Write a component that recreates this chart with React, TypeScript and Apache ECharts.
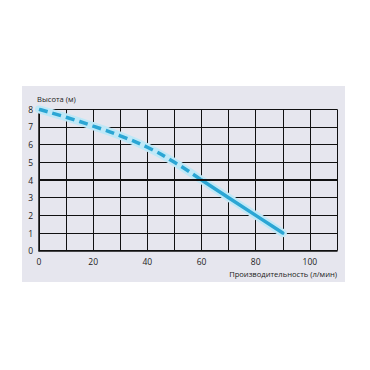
import React, { useEffect, useRef } from "react";
import * as echarts from "echarts";

const flowDashed = [0, 10, 20, 30, 40, 50, 60];
const headDashed = [8, 7.55, 7.05, 6.5, 5.85, 5.0, 4.0];
const flowSolid = [60, 70, 80, 90];
const headSolid = [4, 3, 2, 1];
const xTicks = [0, 20, 40, 60, 80, 100];
const yName = "Высота (м)";
const xName = "Производительность (л/мин)";

export default function App() {
  const ref = useRef<HTMLDivElement>(null);
  useEffect(() => {
    if (!ref.current) return;
    const chart = echarts.init(ref.current, null, { renderer: "svg" });
    const dashed = flowDashed.map((x, i) => [x, headDashed[i]]);
    const solid = flowSolid.map((x, i) => [x, headSolid[i]]);
    const all = dashed.concat(solid.slice(1));
    const font = "Open Sans";
    chart.setOption({
      animation: false,
      backgroundColor: "#ffffff",
      graphic: [
        {
          type: "rect",
          z: -10,
          silent: true,
          shape: { x: 22, y: 86, width: 323, height: 196 },
          style: { fill: "#e6e6ee" },
        },
      ],
      grid: { left: 39, right: 33, top: 109.3, bottom: 119.3 },
      xAxis: {
        type: "value",
        min: 0,
        max: 110,
        interval: 10,
        name: xName,
        nameLocation: "end",
        nameGap: 0,
        nameTextStyle: {
          align: "right",
          verticalAlign: "top",
          padding: [19, 0, 0, 0],
          fontSize: 7.6,
          color: "#222",
          fontFamily: font,
        },
        axisLine: { show: true, lineStyle: { color: "#111", width: 1.5 } },
        axisTick: { show: false },
        axisLabel: {
          margin: 6,
          fontSize: 8.5,
          color: "#222",
          fontFamily: font,
          formatter: (v: number) => (xTicks.includes(v) ? String(v) : ""),
        },
        splitLine: { show: true, lineStyle: { color: "#111", width: 1 } },
      },
      yAxis: {
        type: "value",
        min: 0,
        max: 8,
        interval: 1,
        name: yName,
        nameLocation: "end",
        nameGap: 6,
        nameTextStyle: {
          align: "left",
          fontSize: 7.6,
          color: "#222",
          fontFamily: font,
          padding: [0, 0, 0, -2],
        },
        axisLine: { show: true, lineStyle: { color: "#111", width: 1.5 } },
        axisTick: { show: false },
        axisLabel: { margin: 6, fontSize: 8.5, color: "#222", fontFamily: font },
        splitLine: { show: true, lineStyle: { color: "#111", width: 1 } },
      },
      series: [
        {
          type: "line",
          data: [],
          silent: true,
          markLine: {
            silent: true,
            symbol: "none",
            label: { show: false },
            lineStyle: { color: "#111", width: 2, type: "solid" },
            data: [{ yAxis: 4 }],
          },
        },
        {
          type: "line",
          data: all,
          showSymbol: false,
          smooth: true,
          silent: true,
          z: 3,
          lineStyle: { color: "#bfe8f7", width: 8, cap: "round" },
        },
        {
          type: "line",
          data: dashed,
          showSymbol: false,
          smooth: true,
          silent: true,
          z: 4,
          lineStyle: { color: "#2ba6d4", width: 3.5, type: [9, 5] },
        },
        {
          type: "line",
          data: solid,
          showSymbol: false,
          silent: true,
          z: 4,
          lineStyle: { color: "#2ba6d4", width: 3.5, cap: "round" },
        },
      ],
    });
    return () => chart.dispose();
  }, []);
  return (
    <div
      ref={ref}
      style={{ position: "fixed", left: 0, top: 0, width: 370, height: 370 }}
    />
  );
}
